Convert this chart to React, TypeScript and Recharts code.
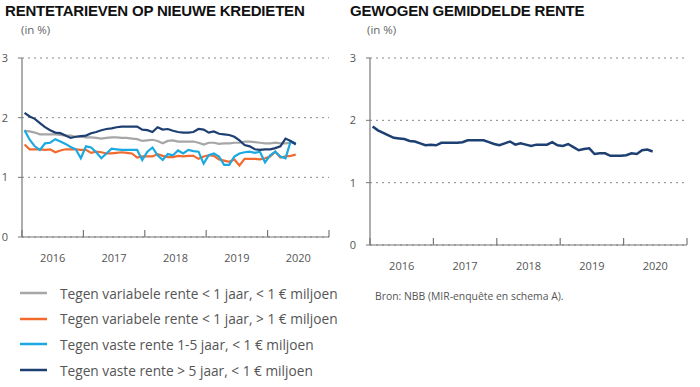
import { LineChart, Line, XAxis, YAxis, CartesianGrid } from 'recharts';

// months since Jan 2016, plotted mid-month
const months = Array.from({ length: 54 }, (_, i) => i + 0.5);
const yearLabels = ['2016', '2017', '2018', '2019', '2020'];
const xTicks = [0, 6, 12, 18, 24, 30, 36, 42, 48, 54, 60];
const yTicks = [0, 1, 2, 3];

const variabelKlein = [
    1.78, 1.77, 1.75, 1.72, 1.72, 1.72, 1.72, 1.71, 1.70, 1.70, 1.68, 1.68,
    1.67, 1.67, 1.66, 1.65, 1.66, 1.67, 1.67, 1.66, 1.66, 1.65, 1.64, 1.61,
    1.62, 1.63, 1.61, 1.57, 1.61, 1.62, 1.60, 1.60, 1.60, 1.60, 1.58, 1.55,
    1.58, 1.58, 1.56, 1.57, 1.57, 1.58, 1.58, 1.60, 1.60, 1.59, 1.58, 1.57,
    1.57, 1.58, 1.57, 1.57, 1.58, 1.58,
];
const variabelGroot = [
    1.55, 1.47, 1.47, 1.47, 1.46, 1.47, 1.42, 1.45, 1.47, 1.47, 1.47, 1.46,
    1.46, 1.41, 1.43, 1.42, 1.40, 1.40, 1.41, 1.42, 1.41, 1.40, 1.33, 1.35,
    1.35, 1.35, 1.39, 1.36, 1.34, 1.34, 1.36, 1.35, 1.36, 1.36, 1.31, 1.35,
    1.37, 1.36, 1.30, 1.28, 1.26, 1.30, 1.20, 1.31, 1.31, 1.31, 1.30, 1.32,
    1.35, 1.43, 1.33, 1.35, 1.36, 1.38,
];
const vast1tot5 = [
    1.79, 1.63, 1.52, 1.46, 1.57, 1.58, 1.64, 1.60, 1.56, 1.51, 1.47, 1.32,
    1.52, 1.50, 1.42, 1.32, 1.40, 1.48, 1.47, 1.46, 1.46, 1.46, 1.46, 1.29,
    1.43, 1.50, 1.37, 1.29, 1.39, 1.37, 1.45, 1.40, 1.46, 1.44, 1.43, 1.23,
    1.37, 1.40, 1.35, 1.21, 1.21, 1.35, 1.40, 1.42, 1.43, 1.41, 1.43, 1.25,
    1.37, 1.43, 1.35, 1.32, 1.60, 1.57,
];
const vastMeer5 = [
    2.08, 2.02, 1.98, 1.91, 1.84, 1.79, 1.75, 1.74, 1.70, 1.66, 1.68, 1.69,
    1.70, 1.74, 1.76, 1.79, 1.81, 1.82, 1.84, 1.85, 1.85, 1.85, 1.85, 1.80,
    1.79, 1.76, 1.84, 1.80, 1.81, 1.78, 1.76, 1.75, 1.75, 1.76, 1.81, 1.80,
    1.75, 1.77, 1.73, 1.72, 1.71, 1.68, 1.62, 1.54, 1.52, 1.47, 1.46, 1.47,
    1.47, 1.49, 1.52, 1.65, 1.61, 1.55,
];
const gewogen = [
    1.90, 1.84, 1.80, 1.76, 1.72, 1.71, 1.70, 1.67, 1.66, 1.63, 1.60, 1.61,
    1.60, 1.64, 1.64, 1.64, 1.64, 1.65, 1.68, 1.68, 1.68, 1.68, 1.65, 1.62,
    1.60, 1.63, 1.66, 1.61, 1.63, 1.61, 1.59, 1.61, 1.61, 1.61, 1.65, 1.60,
    1.59, 1.62, 1.57, 1.52, 1.54, 1.55, 1.46, 1.47, 1.47, 1.43, 1.43, 1.43,
    1.44, 1.47, 1.46, 1.52, 1.53, 1.50,
];

const series = [
    { key: 'varKlein', name: 'Tegen variabele rente < 1 jaar, < 1 € miljoen', color: '#a6a6a6', values: variabelKlein },
    { key: 'varGroot', name: 'Tegen variabele rente < 1 jaar, > 1 € miljoen', color: '#f26a2e', values: variabelGroot },
    { key: 'vast15', name: 'Tegen vaste rente 1-5 jaar, < 1 € miljoen', color: '#1ba9e1', values: vast1tot5 },
    { key: 'vast5', name: 'Tegen vaste rente > 5 jaar, < 1 € miljoen', color: '#1d3f72', values: vastMeer5 },
];

const leftData = months.map((m, i) => {
    const row: Record<string, number> = { m };
    series.forEach(s => { row[s.key] = s.values[i]; });
    return row;
});
const rightData = months.map((m, i) => ({ m, gewogen: gewogen[i] }));

const SANS = '"Open Sans", "Noto Sans", sans-serif';
const AXIS = '#777';
const TEXT = '#555';

// year boundaries get a tick mark pointing up, mid-years get the label
const YearTick = (props: any) => {
    const { x, y, payload } = props;
    const v = payload.value as number;
    if (v % 12 === 0) {
        return <line x1={x} y1={y} x2={x} y2={y - 7} stroke={AXIS} strokeWidth={1.2} />;
    }
    return (
        <text x={x} y={y + 25} textAnchor="middle" fontSize={11} fill={TEXT} fontFamily={SANS}>
            {yearLabels[Math.floor(v / 12)]}
        </text>
    );
};

export default function App() {
    const title: React.CSSProperties = {
        position: 'absolute', top: 2, fontFamily: '"Liberation Sans", Arial, sans-serif',
        fontWeight: 'bold', fontSize: 15, color: '#111', whiteSpace: 'nowrap', letterSpacing: -0.2,
    };
    const unit: React.CSSProperties = {
        position: 'absolute', top: 22, fontFamily: SANS, fontSize: 11.5, color: '#666',
    };
    const yAxisProps = {
        type: 'number' as const, domain: [0, 3], ticks: yTicks, width: 22, tickSize: 4, tickMargin: 10,
        stroke: AXIS, tick: { fontSize: 11, fill: TEXT, fontFamily: SANS },
        axisLine: { stroke: AXIS, strokeWidth: 1.2 }, tickLine: { stroke: AXIS },
    };
    const xAxisProps = {
        type: 'number' as const, dataKey: 'm', domain: [0, 60], ticks: xTicks, interval: 0 as const,
        tickSize: 0, tickMargin: 0, tickLine: false, tick: <YearTick />,
        axisLine: { stroke: AXIS, strokeWidth: 1.2 },
    };

    return (
        <div style={{ position: 'absolute', left: 0, top: 0, width: 700, height: 387, background: '#fff' }}>
            <div style={{ ...title, left: 5 }}>RENTETARIEVEN OP NIEUWE KREDIETEN</div>
            <div style={{ ...title, left: 350 }}>GEWOGEN GEMIDDELDE RENTE</div>
            <div style={{ ...unit, left: 21 }}>(in %)</div>
            <div style={{ ...unit, left: 367 }}>(in %)</div>

            <div style={{ position: 'absolute', left: 0, top: 0 }}>
                <LineChart width={340} height={275} data={leftData} margin={{ top: 58, right: 11, left: 0, bottom: 0 }}>
                    <CartesianGrid vertical={false} stroke="#888" strokeDasharray="2 4" />
                    <XAxis {...xAxisProps} height={38} />
                    <YAxis {...yAxisProps} />
                    {series.map(s => (
                        <Line key={s.key} type="linear" dataKey={s.key} stroke={s.color} strokeWidth={2.2}
                            dot={false} isAnimationActive={false} />
                    ))}
                </LineChart>
            </div>

            <div style={{ position: 'absolute', left: 348, top: 0 }}>
                <LineChart width={350} height={285} data={rightData} margin={{ top: 58, right: 11, left: 0, bottom: 0 }}>
                    <CartesianGrid vertical={false} stroke="#888" strokeDasharray="2 4" />
                    <XAxis {...xAxisProps} height={40} />
                    <YAxis {...yAxisProps} />
                    <Line type="linear" dataKey="gewogen" stroke="#1d3f72" strokeWidth={2.5}
                        dot={false} isAnimationActive={false} />
                </LineChart>
            </div>

            <div style={{ position: 'absolute', left: 375, top: 289, fontFamily: SANS, fontSize: 10.4, color: TEXT }}>
                Bron: NBB (MIR-enquête en schema A).
            </div>

            {series.map((s, i) => (
                <div key={s.key} style={{ position: 'absolute', left: 20, top: 283 + i * 25.7, height: 20,
                    display: 'flex', alignItems: 'center', fontFamily: SANS, fontSize: 13.7, color: TEXT, whiteSpace: 'nowrap' }}>
                    <svg width={27} height={4} style={{ marginRight: 13 }}>
                        <line x1={0} y1={2} x2={27} y2={2} stroke={s.color} strokeWidth={2.5} />
                    </svg>
                    {s.name}
                </div>
            ))}
        </div>
    );
}
